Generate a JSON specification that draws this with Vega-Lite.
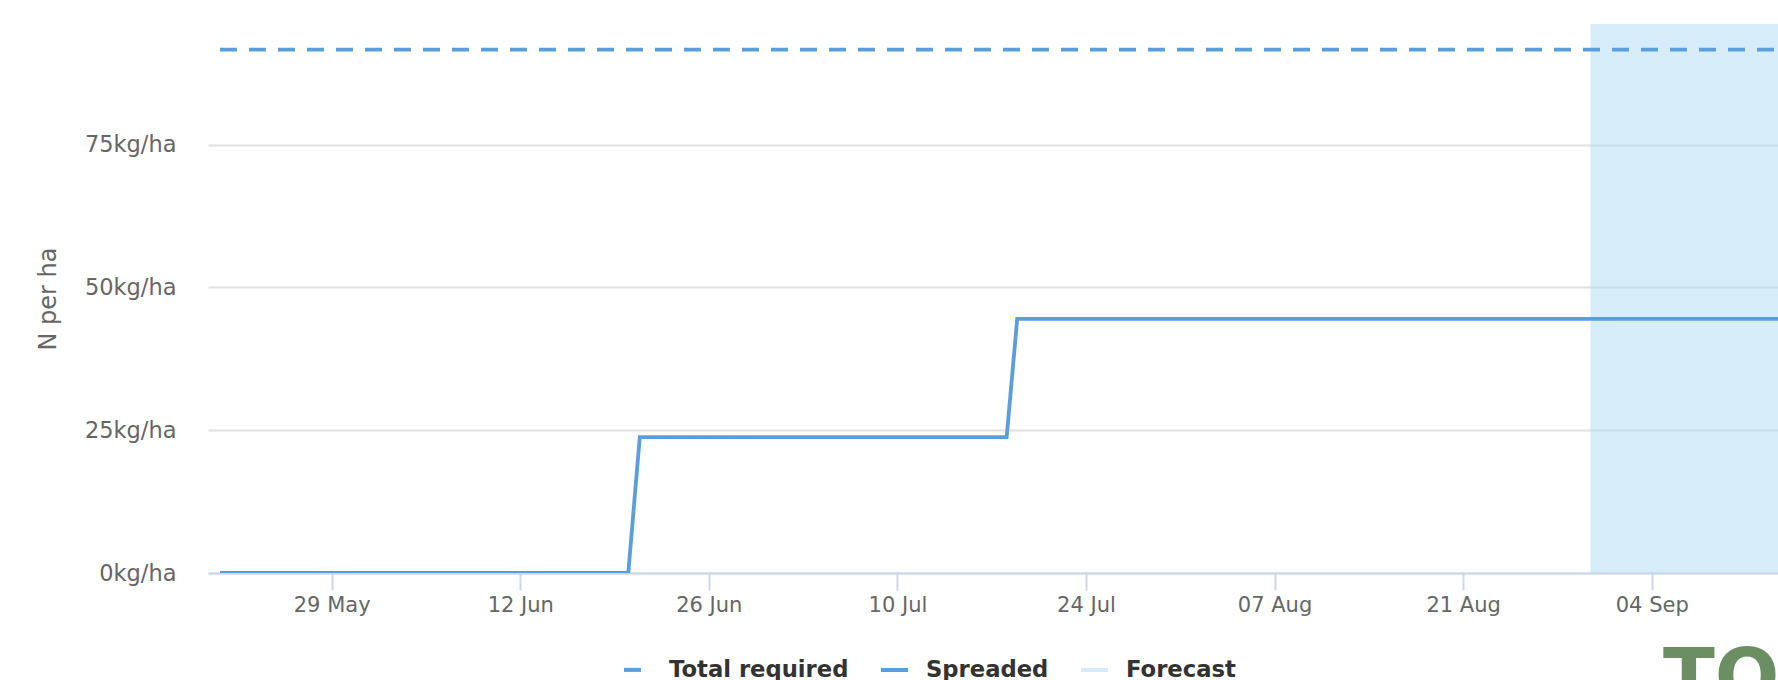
{
  "$schema": "https://vega.github.io/schema/vega-lite/v6.json",
  "width": 1570,
  "height": 549,
  "autosize": {"type": "none"},
  "padding": {"left": 208, "top": 24, "right": 0, "bottom": 107},
  "background": "white",
  "config": {"view": {"stroke": null}, "font": "DejaVu Sans"},
  "datasets": {
    "lines": [
      {"date": "2023-05-20T17:00:00Z", "value": 91.6, "series": "Total required"},
      {"date": "2023-09-14T00:00:00Z", "value": 91.6, "series": "Total required"},
      {"date": "2023-05-20T17:00:00Z", "value": 0, "series": "Spreaded"},
      {"date": "2023-06-20T00:30:00Z", "value": 0, "series": "Spreaded"},
      {"date": "2023-06-20T21:00:00Z", "value": 23.8, "series": "Spreaded"},
      {"date": "2023-07-18T02:40:00Z", "value": 23.8, "series": "Spreaded"},
      {"date": "2023-07-18T21:30:00Z", "value": 44.5, "series": "Spreaded"},
      {"date": "2023-09-14T00:00:00Z", "value": 44.5, "series": "Spreaded"}
    ],
    "forecast": [
      {"date": "2023-08-30T11:00:00Z", "end": "2023-09-20T00:00:00Z"}
    ],
    "logo": [
      {"date": "2023-09-04T20:00:00Z", "value": -22.7, "label": "TO"}
    ]
  },
  "layer": [
    {
      "data": {"name": "forecast"},
      "mark": {"type": "rect", "clip": true, "color": "#addaf2", "opacity": 0.5},
      "encoding": {
        "x": {
          "field": "date", "type": "temporal",
          "scale": {"type": "utc", "domain": ["2023-05-19T19:40:00Z", "2023-09-13T09:00:00Z"]},
          "axis": {
            "title": null,
            "grid": false,
            "values": [
              {"year": 2023, "month": 5, "date": 29, "utc": true},
              {"year": 2023, "month": 6, "date": 12, "utc": true},
              {"year": 2023, "month": 6, "date": 26, "utc": true},
              {"year": 2023, "month": 7, "date": 10, "utc": true},
              {"year": 2023, "month": 7, "date": 24, "utc": true},
              {"year": 2023, "month": 8, "date": 7, "utc": true},
              {"year": 2023, "month": 8, "date": 21, "utc": true},
              {"year": 2023, "month": 9, "date": 4, "utc": true}
            ],
            "labelExpr": "utcFormat(datum.value, '%d %b')",
            "domainColor": "#ccd6eb",
            "domainWidth": 2,
            "tickColor": "#ccd6eb",
            "tickWidth": 2,
            "tickSize": 17,
            "labelPadding": 4,
            "labelFontSize": 21,
            "labelColor": "#666666",
            "labelFlush": false,
            "labelOverlap": false
          }
        },
        "x2": {"field": "end"}
      }
    },
    {
      "data": {"name": "lines"},
      "mark": {"type": "line", "strokeWidth": 3.8, "clip": true, "interpolate": "linear"},
      "encoding": {
        "x": {"field": "date", "type": "temporal"},
        "y": {
          "field": "value", "type": "quantitative",
          "scale": {"domain": [0, 96.1], "nice": false},
          "axis": {
            "values": [0, 25, 50, 75],
            "labelExpr": "datum.value + 'kg/ha'",
            "title": "N per ha",
            "grid": true,
            "gridColor": "#e3e1df",
            "gridWidth": 2,
            "domain": false,
            "ticks": false,
            "labelPadding": 32,
            "labelFontSize": 22.5,
            "labelColor": "#666666",
            "titleFontSize": 24,
            "titleColor": "#666666",
            "titleFontWeight": "normal",
            "titleX": -160,
            "titleY": 274.5,
            "titleAngle": 270,
            "titleAlign": "center",
            "titleBaseline": "middle"
          }
        },
        "color": {
          "field": "series", "type": "nominal",
          "scale": {"domain": ["Total required", "Spreaded", "Forecast"], "range": ["#5a9fdc", "#5a9fdc", "#d5ebf8"]},
          "legend": {
            "title": null,
            "orient": "none",
            "legendX": 414,
            "legendY": 630,
            "direction": "horizontal",
            "symbolType": "stroke",
            "symbolStrokeWidth": 4,
            "symbolSize": 729,
            "labelFontSize": 22.7,
            "labelFontWeight": "bold",
            "labelColor": "#333333",
            "labelOffset": 16,
            "columnPadding": 24,
            "labelLimit": 400
          }
        },
        "strokeDash": {
          "field": "series", "type": "nominal",
          "scale": {"domain": ["Total required", "Spreaded", "Forecast"], "range": [[17, 12], [1, 0], [1, 0]]},
          "legend": {
            "title": null,
            "orient": "none",
            "legendX": 414,
            "legendY": 630,
            "direction": "horizontal",
            "symbolType": "stroke",
            "symbolStrokeWidth": 4,
            "symbolSize": 729,
            "labelFontSize": 22.7,
            "labelFontWeight": "bold",
            "labelColor": "#333333",
            "labelOffset": 16,
            "columnPadding": 24,
            "labelLimit": 400
          }
        }
      }
    },
    {
      "data": {"name": "logo"},
      "mark": {"type": "text", "fontSize": 76, "fontWeight": "bold", "color": "#6b8f63", "align": "left", "baseline": "alphabetic", "font": "DejaVu Sans"},
      "encoding": {
        "x": {"field": "date", "type": "temporal"},
        "y": {"field": "value", "type": "quantitative"},
        "text": {"field": "label"}
      }
    }
  ]
}
